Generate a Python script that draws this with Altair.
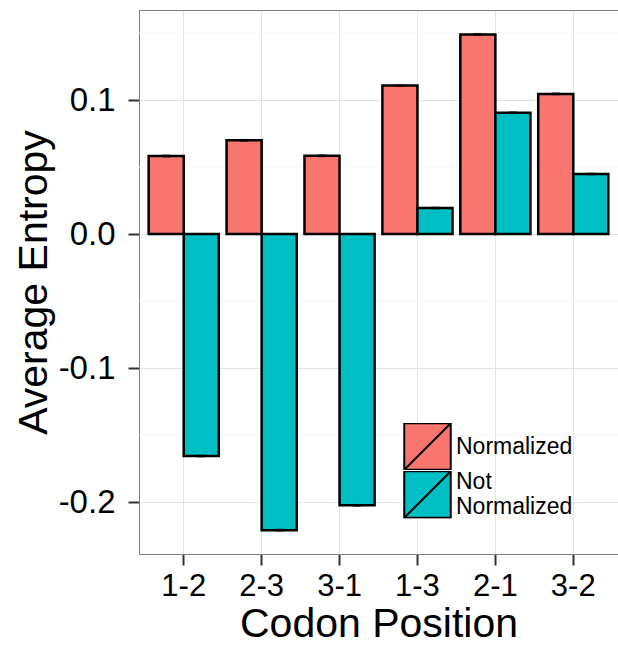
import altair as alt
import pandas as pd

# Codon position pairs and the average entropy for each series
positions = ["1-2", "2-3", "3-1", "1-3", "2-1", "3-2"]
series = ["Normalized", "Not Normalized"]
normalized = [0.0582, 0.0699, 0.0584, 0.1108, 0.1490, 0.1046]
not_normalized = [-0.1657, -0.2210, -0.2025, 0.0194, 0.0905, 0.0448]
normalized_se = [0.0005, 0.0005, 0.0005, 0.0005, 0.0005, 0.0005]
not_normalized_se = [0.0005, 0.0005, 0.0005, 0.0005, 0.0005, 0.0005]
colors = ["#F8766D", "#00BFC4"]

major_breaks = [-0.2, -0.1, 0.0, 0.1]
minor_breaks = [-0.15, -0.05, 0.05, 0.15]
y_domain = [-0.2388, 0.1672]

rows = []
for pos, v, e in zip(positions, normalized, normalized_se):
    rows.append({"pos": pos, "series": series[0], "value": v, "lo": v - e, "hi": v + e})
for pos, v, e in zip(positions, not_normalized, not_normalized_se):
    rows.append({"pos": pos, "series": series[1], "value": v, "lo": v - e, "hi": v + e})
df = pd.DataFrame(rows)
minor_df = pd.DataFrame({"y": minor_breaks})

FONT = "Liberation Sans"
GRID = "#E5E5E5"
BORDER = "#7F7F7F"

x_enc = alt.X(
    "pos:N",
    sort=positions,
    scale=alt.Scale(paddingInner=0.1, paddingOuter=0.124),
    axis=alt.Axis(
        title="Codon Position",
        labelAngle=0,
        labelFontSize=31,
        labelFont=FONT,
        labelColor="black",
        labelPadding=6,
        tickSize=11,
        tickWidth=2,
        tickColor="#333333",
        domainColor=BORDER,
        domainWidth=1,
        grid=True,
        gridColor=GRID,
        gridWidth=1,
        titleFontSize=41,
        titleFont=FONT,
        titleFontWeight="normal",
        titleColor="black",
        titlePadding=3,
    ),
)
y_scale = alt.Scale(domain=y_domain, nice=False, zero=False)
y_axis = alt.Axis(
    title="Average Entropy",
    values=major_breaks,
    format=".1f",
    labelExpr="replace(datum.label, '\u2212', '-')",
    labelFontSize=33,
    labelFont=FONT,
    labelColor="black",
    labelPadding=13,
    tickSize=11,
    tickWidth=2,
    tickColor="#333333",
    domainColor=BORDER,
    domainWidth=1,
    grid=True,
    gridColor=GRID,
    gridWidth=1,
    titleFontSize=41,
    titleFont=FONT,
    titleFontWeight="normal",
    titleColor="black",
    titlePadding=3,
)

base = alt.Chart(df)

minor_grid = alt.Chart(minor_df).mark_rule(color="#F4F4F4", strokeWidth=1).encode(
    y=alt.Y("y:Q", scale=y_scale, axis=y_axis)
)

bars = base.mark_bar(stroke="black", strokeWidth=2.5).encode(
    x=x_enc,
    xOffset=alt.XOffset("series:N", sort=series, scale=alt.Scale(paddingInner=0, paddingOuter=0)),
    y=alt.Y("value:Q", scale=y_scale, axis=y_axis),
    y2=alt.datum(0),
    fill=alt.Fill(
        "series:N",
        sort=series,
        scale=alt.Scale(domain=series, range=colors),
        legend=alt.Legend(
            title=None,
            orient="none",
            legendX=264,
            legendY=413,
            symbolType="M-1,-1L1,-1L1,1L-1,1Z M-1,1L1,-1",
            symbolSize=2162,
            symbolStrokeColor="black",
            symbolStrokeWidth=2,
            symbolOpacity=1,
            # fixed entry height keeps the stacked keys flush
            clipHeight=47,
            labelFontSize=23,
            labelFont=FONT,
            labelColor="black",
            labelOffset=4,
            labelExpr="datum.label == 'Not Normalized' ? ['Not', 'Normalized'] : datum.label",
            # the two-line label is centred on its key
            labelBaseline=alt.ExprRef(
                "datum.value == 'Not Normalized' ? 'line-bottom' : 'middle'"
            ),
            rowPadding=0,
            padding=0,
            offset=0,
        ),
    ),
)

err_rule = base.mark_rule(color="black", strokeWidth=1.5).encode(
    x=alt.X("pos:N", sort=positions),
    xOffset=alt.XOffset("series:N", sort=series),
    y=alt.Y("lo:Q", scale=y_scale),
    y2="hi:Q",
)
err_lo = base.mark_tick(color="black", size=8, thickness=1.5).encode(
    x=alt.X("pos:N", sort=positions),
    xOffset=alt.XOffset("series:N", sort=series),
    y=alt.Y("lo:Q", scale=y_scale),
)
err_hi = base.mark_tick(color="black", size=8, thickness=1.5).encode(
    x=alt.X("pos:N", sort=positions),
    xOffset=alt.XOffset("series:N", sort=series),
    y=alt.Y("hi:Q", scale=y_scale),
)

# top edge of the panel frame
top_border = alt.Chart(minor_df).mark_rule(color=BORDER, strokeWidth=1).encode(
    y=alt.value(0.5)
)

chart = (
    alt.layer(minor_grid, bars, err_rule, err_lo, err_hi, top_border)
    .properties(
        width=479,
        height=544,
        autosize=alt.AutoSizeParams(type="none"),
        padding={"left": 139, "top": 10, "right": 0, "bottom": 91},
        background="white",
    )
    .configure_view(stroke=None)
)

chart.save("out.html", embed_options={"renderer": "svg", "actions": False})
